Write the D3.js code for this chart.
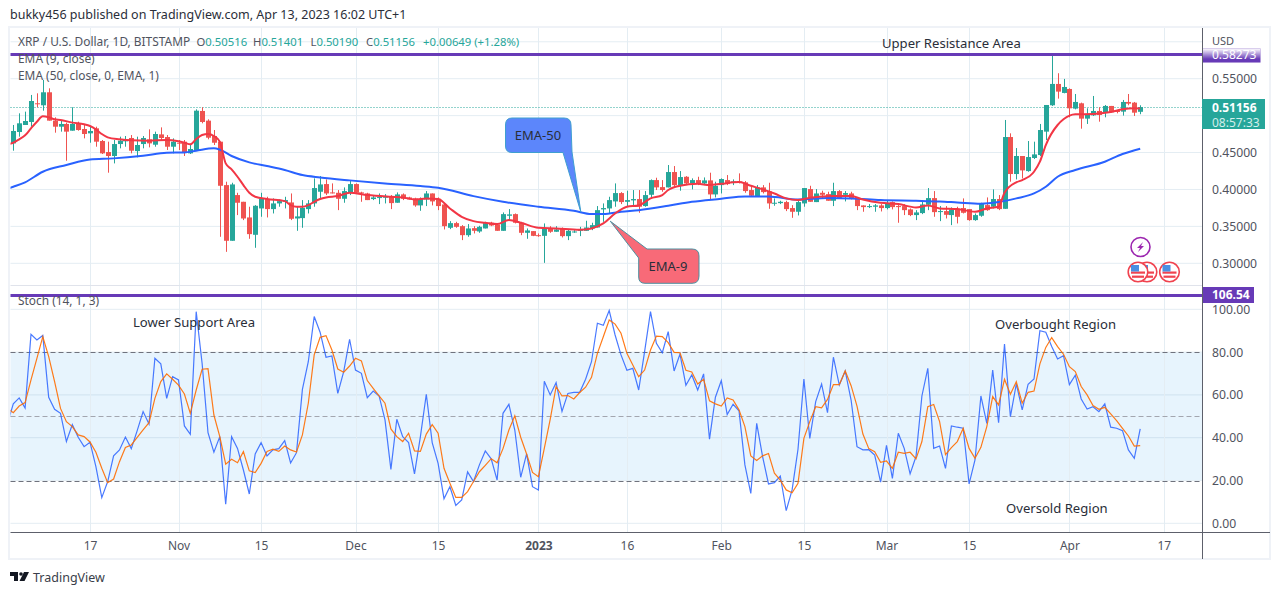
<!DOCTYPE html>
<html>
<head>
<meta charset="utf-8">
<script src="https://cdn.jsdelivr.net/npm/d3@7"></script>
<style>
  html, body { margin: 0; padding: 0; background: #fff; }
  text { font-family: "Noto Sans", sans-serif; }
</style>
</head>
<body>
<svg id="chart" width="1280" height="595"></svg>
<script>
// daily candles, first one is Oct 4 2022
var firstDay = '2022-10-04';
var opens = [
  .4624,.4778,.4873,.4914,.5167,.5140,.5316,.4932,.4850,.4887,
  .4796,.4887,.4819,.4760,.4828,.4656,.4507,.4453,.4615,.4652,
  .4697,.4520,.4615,.4679,.4606,.4746,.4710,.4579,.4633,.4647,
  .4489,.4534,.5063,.4932,.4724,.4647,.4059,.3305,.3924,.3833,
  .3621,.3386,.3743,.3870,.3734,.3811,.3833,.3824,.3607,.3612,
  .3734,.3811,.3969,.4073,.3960,.3955,.3874,.3964,.4073,.3960,
  .3946,.3870,.3888,.3888,.3901,.3820,.3933,.3892,.3879,.3784,
  .3865,.3946,.3874,.3797,.3481,.3544,.3503,.3381,.3476,.3431,
  .3472,.3549,.3526,.3440,.3644,.3666,.3549,.3413,.3436,.3381,
  .3372,.3467,.3427,.3476,.3368,.3422,.3440,.3440,.3472,.3485,
  .3730,.3743,.3838,.3951,.3833,.3852,.3870,.3775,.3928,.4127,
  .4032,.4028,.4236,.4059,.4172,.4082,.4127,.4082,.4123,.3933,
  .4059,.4127,.4091,.4109,.4096,.3992,.3901,.4028,.3974,.3811,
  .3815,.3829,.3748,.3698,.3811,.4005,.3829,.3955,.3937,.3847,
  .3978,.3928,.3946,.3883,.3784,.3761,.3766,.3784,.3748,.3829,
  .3775,.3775,.3730,.3653,.3680,.3793,.3883,.3698,.3707,.3653,
  .3738,.3748,.3734,.3585,.3644,.3788,.3766,.3870,.3738,.4710,
  .4209,.4453,.4249,.4426,.4466,.4783,.5140,.5429,.5307,.5361,
  .5095,.5167,.4959,.5004,.5063,.5049,.5131,.5067,.5054,.5185,
  .5176,.50516
];
var highs = [
  .4873,.5031,.5054,.5280,.5302,.5483,.5370,.4977,.4941,.4905,
  .5113,.4918,.4873,.4850,.4850,.4670,.4647,.4670,.4715,.4724,
  .4737,.4715,.4724,.4814,.4783,.4841,.4737,.4692,.4670,.4670,
  .4615,.5085,.5113,.4950,.4805,.4647,.4105,.4091,.3955,.3833,
  .3766,.3788,.3955,.3901,.3879,.3865,.3901,.3946,.3766,.3856,
  .3856,.4150,.4181,.4136,.4082,.3992,.4028,.4114,.4082,.3969,
  .3955,.3924,.3946,.3937,.3924,.3960,.3946,.3901,.3888,.3892,
  .3978,.3946,.3892,.3811,.3571,.3562,.3517,.3531,.3503,.3508,
  .3562,.3562,.3540,.3689,.3734,.3675,.3562,.3472,.3436,.3404,
  .3540,.3503,.3503,.3485,.3458,.3449,.3494,.3576,.3549,.3775,
  .3811,.3901,.4082,.3964,.3983,.3992,.3992,.3978,.4136,.4159,
  .4127,.4331,.4317,.4249,.4181,.4150,.4172,.4163,.4227,.4105,
  .4150,.4195,.4136,.4218,.4114,.4037,.4059,.4059,.4091,.3879,
  .3847,.3847,.3788,.3856,.4019,.4050,.4005,.3983,.3969,.4091,
  .3992,.3978,.3969,.3883,.3784,.3802,.3802,.3802,.3847,.3838,
  .3788,.3802,.3743,.3720,.3833,.4019,.3978,.3775,.3775,.3757,
  .3766,.3879,.3734,.3675,.3820,.3892,.4001,.3924,.4941,.4760,
  .4561,.4453,.4656,.4647,.4887,.5144,.5845,.5574,.5497,.5370,
  .5293,.5176,.5099,.5266,.5113,.5144,.5131,.5076,.5212,.5293,
  .5185,.51401
];
var lows = [
  .4525,.4715,.4873,.4850,.5113,.5067,.4932,.4769,.4783,.4389,
  .4796,.4796,.4692,.4633,.4579,.4480,.4227,.4353,.4557,.4579,
  .4489,.4435,.4557,.4570,.4579,.4670,.4534,.4489,.4534,.4453,
  .4480,.4534,.4896,.4679,.4602,.3359,.3155,.3305,.3653,.3585,
  .3332,.3210,.3630,.3621,.3675,.3766,.3743,.3585,.3440,.3481,
  .3675,.3766,.3879,.3924,.3946,.3720,.3820,.3924,.3946,.3833,
  .3856,.3856,.3802,.3811,.3734,.3820,.3856,.3865,.3766,.3711,
  .3775,.3784,.3720,.3458,.3463,.3481,.3314,.3359,.3404,.3413,
  .3472,.3503,.3440,.3440,.3576,.3540,.3381,.3332,.3368,.3359,
  .3006,.3413,.3427,.3350,.3314,.3413,.3368,.3440,.3449,.3485,
  .3562,.3675,.3766,.3802,.3775,.3766,.3684,.3766,.3879,.3992,
  .3969,.4028,.4037,.3983,.4059,.4001,.4059,.4059,.3870,.3892,
  .3946,.4059,.4059,.4082,.3955,.3901,.3901,.3946,.3738,.3779,
  .3802,.3707,.3616,.3648,.3766,.3833,.3829,.3879,.3847,.3775,
  .3879,.3838,.3865,.3720,.3698,.3748,.3698,.3702,.3730,.3730,
  .3549,.3653,.3639,.3585,.3666,.3720,.3630,.3571,.3607,.3517,
  .3540,.3675,.3576,.3576,.3630,.3711,.3743,.3720,.3738,.4105,
  .4136,.4150,.4240,.4412,.4453,.4670,.5131,.5230,.5302,.4977,
  .5085,.4823,.4887,.4995,.4918,.4977,.5040,.5031,.5000,.5140,
  .4995,.50190
];
var closes = [
  .4792,.4896,.4927,.5198,.5158,.5316,.4932,.4850,.4887,.4783,
  .4887,.4805,.4751,.4792,.4647,.4489,.4453,.4615,.4661,.4679,
  .4525,.4602,.4697,.4624,.4751,.4697,.4579,.4647,.4624,.4498,
  .4548,.5067,.4914,.4701,.4633,.4050,.3305,.4068,.3820,.3607,
  .3395,.3779,.3879,.3734,.3811,.3842,.3856,.3603,.3635,.3752,
  .3811,.4019,.4068,.3946,.3951,.3874,.3978,.4073,.3955,.3951,
  .3856,.3892,.3897,.3910,.3815,.3933,.3874,.3865,.3784,.3870,
  .3946,.3838,.3775,.3503,.3544,.3494,.3381,.3472,.3440,.3494,
  .3544,.3512,.3440,.3666,.3662,.3549,.3413,.3445,.3372,.3368,
  .3467,.3427,.3458,.3368,.3440,.3431,.3458,.3485,.3517,.3720,
  .3748,.3856,.3951,.3829,.3856,.3870,.3766,.3924,.4127,.4028,
  .3992,.4236,.4059,.4168,.4082,.4127,.4073,.4123,.3933,.4050,
  .4141,.4073,.4109,.4091,.3978,.3915,.4028,.3964,.3811,.3820,
  .3833,.3734,.3698,.3829,.4019,.3833,.3946,.3928,.3847,.3978,
  .3879,.3951,.3874,.3775,.3761,.3775,.3784,.3748,.3820,.3761,
  .3761,.3720,.3653,.3689,.3797,.3883,.3693,.3707,.3657,.3730,
  .3630,.3684,.3585,.3653,.3811,.3720,.3870,.3734,.4710,.4209,
  .4453,.4258,.4439,.4475,.4805,.5144,.5429,.5325,.5388,.5099,
  .5185,.4959,.5018,.5063,.5009,.5131,.5045,.5049,.5185,.5162,
  .5040,.51156
];

var ema9Days = [-1,0,1,2,3,4,5,6,7,8,10,12,13,14,15,16,18,20,23,26,28,29,30,31,32,33,34,35,36,37,38,39,40,41,43,46,47,48,49,50,51,52,53,55,57,60,64,66,68,70,72,74,76,78,80,82,84,86,89,92,96,98,100,102,104,106,108,110,111,113,116,118,120,123,125,127,129,131,133,135,139,142,144,147,150,153,155,157,160,163,165,167,168,170,171,173,174,175,177,178,180,183,186,188,190,191];
var ema9Values = [.4611,.4633,.4679,.4733,.4828,.4918,.4990,.4977,.4950,.4941,.4905,.4882,.4859,.4814,.4751,.4706,.4679,.4665,.4661,.4670,.4652,.4633,.4611,.4683,.4737,.4751,.4724,.4647,.4353,.4272,.4172,.4059,.3955,.3901,.3870,.3842,.3788,.3766,.3766,.3788,.3833,.3870,.3892,.3910,.3955,.3924,.3901,.3892,.3865,.3879,.3870,.3743,.3630,.3571,.3549,.3531,.3585,.3549,.3481,.3472,.3454,.3472,.3540,.3675,.3766,.3784,.3879,.3924,.3992,.4050,.4077,.4059,.4077,.4100,.4050,.4001,.3946,.3879,.3856,.3888,.3910,.3910,.3865,.3820,.3802,.3757,.3784,.3743,.3734,.3698,.3743,.3766,.3955,.4096,.4127,.4240,.4376,.4602,.4873,.4950,.5018,.5022,.5049,.5085,.5099,.5095];
var ema50Days = [-1,0,2,5,9,13,17,22,26,29,31,34,35,37,40,43,46,49,52,57,63,69,72,78,83,89,95,98,100,103,106,111,115,120,124,128,133,138,142,147,153,157,160,164,167,170,173,175,177,180,185,188,191];
var ema50Values = [.4010,.4037,.4096,.4240,.4331,.4407,.4421,.4457,.4498,.4502,.4525,.4557,.4539,.4453,.4367,.4317,.4263,.4195,.4163,.4123,.4082,.4046,.4023,.3910,.3833,.3766,.3711,.3666,.3666,.3698,.3720,.3779,.3833,.3874,.3906,.3906,.3865,.3883,.3879,.3856,.3847,.3838,.3824,.3806,.3829,.3879,.3946,.4037,.4172,.4263,.4376,.4480,.4552];

// stochastic, one value per day, first one is the day before firstDay (falls under the left edge)
var stochK = [
  46.6,55.8,58.6,53.9,88.3,85.7,87.8,58.9,53.3,51.4,38.2,
  46.1,40.2,35.8,37.9,26.5,12.0,19.5,31.5,34.3,40.3,
  34.9,43.3,52.2,46.4,77.1,74.5,58.4,68.5,67.0,45.5,
  41.6,98.9,74.8,42.4,33.2,40.5,8.9,40.5,35.0,24.9,
  13.7,32.4,37.7,31.5,34.3,34.9,38.6,28.2,33.0,62.6,
  75.5,96.6,89.3,77.6,78.2,60.7,70.9,86.0,71.6,70.1,
  58.7,61.8,59.5,48.3,25.2,48.6,40.5,37.7,23.1,40.5,
  60.3,37.7,28.0,11.5,17.1,8.4,10.9,24.0,19.5,27.3,
  33.8,30.1,20.2,51.4,55.6,43.6,21.5,32.4,17.1,15.6,
  66.4,60.0,65.7,52.3,60.7,61.2,61.2,67.3,75.5,93.5,
  92.5,99.4,88.0,78.7,71.5,72.4,62.3,80.2,98.9,84.1,
  79.7,89.6,71.2,79.1,64.5,69.3,62.3,69.8,39.3,58.9,
  66.7,50.8,55.6,52.6,27.3,14.0,46.7,31.2,18.4,19.0,
  22.1,5.9,15.6,34.6,67.4,39.7,56.9,65.1,51.7,77.6,
  64.6,71.2,57.6,35.8,34.3,34.4,31.9,19.2,36.4,21.0,
  42.1,35.0,23.1,31.2,59.5,72.4,35.0,36.1,25.7,45.5,
  44.9,44.4,18.4,29.6,59.5,46.7,71.6,47.0,83.8,49.8,
  65.1,53.0,65.0,67.4,90.0,89.3,82.6,76.8,78.3,64.8,
  69.2,58.1,53.4,54.5,52.2,55.8,44.9,44.4,43.3,34.3,
  30.4,44.1
];
var stochD = [
  53.7,51.7,54.8,56.4,67.0,77.1,87.2,77.9,66.2,53.7,47.5,
  45.2,41.3,40.5,38.0,33.2,25.7,19.0,20.7,28.8,35.4,
  36.6,40.2,43.6,47.0,58.4,66.2,69.8,67.3,64.6,60.4,
  51.4,62.3,72.0,72.3,50.6,40.5,27.6,29.9,28.3,33.5,
  24.5,23.7,28.0,33.6,34.6,33.6,36.1,34.3,33.3,41.3,
  56.1,78.7,86.9,87.7,81.0,72.1,70.6,73.5,77.1,75.9,
  66.7,63.1,59.5,56.1,44.1,40.5,38.2,42.1,33.8,33.6,
  41.7,46.1,42.1,25.7,18.7,12.1,12.1,14.8,19.5,24.1,
  27.1,30.2,28.3,34.9,43.6,50.2,40.2,32.4,23.8,21.8,
  35.0,48.6,63.9,59.5,59.7,58.1,61.1,63.6,68.2,79.4,
  87.2,95.0,93.1,88.8,79.4,74.0,68.5,71.6,81.0,87.5,
  87.2,84.4,79.9,79.7,71.5,70.7,65.1,67.3,57.2,55.8,
  54.8,58.6,57.6,53.0,45.2,31.5,29.4,31.5,32.6,23.4,
  20.2,15.6,14.3,18.7,39.7,47.5,54.5,54.0,57.9,64.8,
  64.8,71.2,64.3,54.8,41.7,34.9,33.5,28.5,29.1,25.7,
  33.2,32.7,33.2,30.1,38.2,54.5,55.5,47.5,32.1,35.4,
  38.2,44.4,35.0,30.4,35.5,45.2,59.2,55.3,67.3,60.3,
  66.2,56.1,61.2,61.8,74.5,82.2,86.8,82.6,79.0,73.2,
  70.9,63.9,60.0,55.0,53.3,54.2,51.1,48.0,44.4,40.8,
  36.1,36.3
];

var priceTicks = [0.30, 0.35, 0.40, 0.45, 0.50, 0.55, 0.60];
var priceLabels = [0.30, 0.35, 0.40, 0.45, 0.55];
var stochTicks = [0, 20, 40, 60, 80, 100];
var stochDashes = [20, 50, 80];
var timeTicks = ['2022-10-17','2022-11-01','2022-11-15','2022-12-01','2022-12-15','2023-01-01','2023-01-16','2023-02-01','2023-02-15','2023-03-01','2023-03-15','2023-04-01','2023-04-17'];
var timeLabels = ['17','Nov','15','Dec','15','2023','16','Feb','15','Mar','15','Apr','17'];

var ohlcNames = ['O', 'H', 'L', 'C'];
var ohlcValues = ['0.50516', '0.51401', '0.50190', '0.51156'];
var changeText = '+0.00649 (+1.28%)';
var lastPrice = 0.51156;
var countdown = '08:57:33';
var resistanceLevel = 0.58273;
var stochLevel = 106.54;

var GREEN = '#26a69a', RED = '#ef5350', PURPLE = '#673ab7', GRID = '#e4edf3', TEXT = '#50535e', DARK = '#2a2e39';
var AXIS_FONT = '"Liberation Sans", sans-serif';
var LEFT = 10.5, RIGHT = 1202, FRAME_RIGHT = 1270, TOP = 28, SPLIT = 285.5, BOTTOM = 532.5;

var parseDay = d3.utcParse('%Y-%m-%d');
var day0 = parseDay(firstDay);
var dayAt = function(i) { return d3.utcDay.offset(day0, i); };

var x = d3.scaleUtc().domain([day0, dayAt(191)]).range([13.3, 1140.2]);
var y = d3.scaleLinear().domain([0.30, 0.55]).range([263.3, 78.7]);
var ys = d3.scaleLinear().domain([0, 100]).range([523.3, 309.3]);

var svg = d3.select('#chart');

// gradient for the price tag sliding under the USD label
var defs = svg.append('defs');
var fade = defs.append('linearGradient').attr('id', 'tagFade').attr('x1', 0).attr('x2', 0).attr('y1', 0).attr('y2', 1);
fade.append('stop').attr('offset', '0%').attr('stop-color', '#fff').attr('stop-opacity', 1);
fade.append('stop').attr('offset', '75%').attr('stop-color', '#fff').attr('stop-opacity', 0);
defs.append('clipPath').attr('id', 'mainClip').append('rect')
  .attr('x', LEFT).attr('y', TOP).attr('width', RIGHT - LEFT).attr('height', SPLIT - TOP);
defs.append('clipPath').attr('id', 'stochClip').append('rect')
  .attr('x', LEFT).attr('y', SPLIT).attr('width', RIGHT - LEFT).attr('height', BOTTOM - SPLIT);

svg.append('text').attr('x', 10).attr('y', 19).attr('font-size', 12.5).attr('fill', DARK)
  .text('bukky456 published on TradingView.com, Apr 13, 2023 16:02 UTC+1');

// frame
svg.append('rect').attr('x', 9).attr('y', 27).attr('width', FRAME_RIGHT - 9).attr('height', 532)
  .attr('fill', 'none').attr('stroke', '#eff2f7').attr('stroke-width', 2);

// band and grid
svg.append('rect').attr('x', LEFT).attr('width', RIGHT - LEFT)
  .attr('y', ys(80)).attr('height', ys(20) - ys(80)).attr('fill', '#e7f4fd');

var grid = svg.append('g').attr('stroke', GRID).attr('stroke-width', 1);
priceTicks.forEach(function(p) {
  grid.append('line').attr('x1', LEFT).attr('x2', RIGHT).attr('y1', y(p)).attr('y2', y(p));
});
stochTicks.forEach(function(s) {
  grid.append('line').attr('x1', LEFT).attr('x2', RIGHT).attr('y1', ys(s)).attr('y2', ys(s))
    .attr('stroke', s === 40 || s === 60 ? '#cfe2ef' : GRID);
});
timeTicks.forEach(function(t) {
  var px = Math.round(x(parseDay(t))) + 0.5;
  grid.append('line').attr('x1', px).attr('x2', px).attr('y1', TOP).attr('y2', BOTTOM);
});
grid.append('line').attr('x1', LEFT).attr('x2', RIGHT).attr('y1', SPLIT).attr('y2', SPLIT).attr('stroke', '#e0e3eb');

stochDashes.forEach(function(s) {
  var ly = Math.round(ys(s)) + 0.5;
  svg.append('line').attr('x1', LEFT).attr('x2', RIGHT).attr('y1', ly).attr('y2', ly)
    .attr('stroke', s === 50 ? '#a3a6af' : '#6f727d').attr('stroke-width', 1).attr('stroke-dasharray', '5,3');
});

// last price dotted line
var lastY = Math.round(y(lastPrice)) + 0.5;
svg.append('line').attr('x1', LEFT).attr('x2', RIGHT).attr('y1', lastY).attr('y2', lastY)
  .attr('stroke', GREEN).attr('stroke-width', 1).attr('stroke-dasharray', '1,2');

// candles
var candles = svg.append('g').attr('clip-path', 'url(#mainClip)').selectAll('g')
  .data(opens).join('g')
  .attr('fill', function(d, i) { return closes[i] >= d ? GREEN : RED; })
  .attr('stroke', function(d, i) { return closes[i] >= d ? GREEN : RED; });
candles.append('line')
  .attr('x1', function(d, i) { return Math.round(x(dayAt(i))) + 0.5; })
  .attr('x2', function(d, i) { return Math.round(x(dayAt(i))) + 0.5; })
  .attr('y1', function(d, i) { return y(highs[i]); })
  .attr('y2', function(d, i) { return y(lows[i]); });
candles.append('rect')
  .attr('stroke', 'none')
  .attr('x', function(d, i) { return Math.round(x(dayAt(i))) - 2; })
  .attr('width', 5)
  .attr('y', function(d, i) { return y(Math.max(d, closes[i])); })
  .attr('height', function(d, i) { return Math.max(1, Math.abs(y(d) - y(closes[i]))); });

// EMA lines
var emaLine = d3.line()
  .x(function(d) { return x(dayAt(d[0])); })
  .y(function(d) { return y(d[1]); })
  .curve(d3.curveMonotoneX);
var mainLines = svg.append('g').attr('clip-path', 'url(#mainClip)').attr('fill', 'none');
mainLines.append('path').attr('d', emaLine(d3.zip(ema50Days, ema50Values)))
  .attr('stroke', '#2962ff').attr('stroke-width', 2);
mainLines.append('path').attr('d', emaLine(d3.zip(ema9Days, ema9Values)))
  .attr('stroke', '#f23645').attr('stroke-width', 2);

// stochastic lines
var stochLine = d3.line()
  .x(function(d, i) { return x(dayAt(i - 1)); })
  .y(function(d) { return ys(d); });
var stochLines = svg.append('g').attr('clip-path', 'url(#stochClip)').attr('fill', 'none');
stochLines.append('path').attr('d', stochLine(stochK)).attr('stroke', '#2962ff').attr('stroke-width', 1.2).attr('stroke-opacity', 0.85);
stochLines.append('path').attr('d', stochLine(stochD)).attr('stroke', '#ff6d00').attr('stroke-width', 1.2).attr('stroke-opacity', 0.9);

// the two drawn levels
svg.append('line').attr('x1', LEFT).attr('x2', RIGHT).attr('y1', y(resistanceLevel)).attr('y2', y(resistanceLevel))
  .attr('stroke', PURPLE).attr('stroke-width', 3);
svg.append('line').attr('x1', LEFT).attr('x2', RIGHT).attr('y1', 295.5).attr('y2', 295.5)
  .attr('stroke', PURPLE).attr('stroke-width', 3);

// legend
var LEGEND = 11.9;
svg.append('text').attr('x', 18).attr('y', 46).attr('font-size', LEGEND).attr('fill', TEXT).text('XRP / U.S. Dollar, 1D, BITSTAMP');
var legendX = [196.5, 253, 310.5, 366];
var ohlc = svg.append('text').attr('y', 46).attr('font-size', 11.3).attr('fill', TEXT);
ohlcNames.forEach(function(n, i) {
  ohlc.append('tspan').attr('x', legendX[i]).text(n);
  ohlc.append('tspan').attr('fill', GREEN).text(ohlcValues[i]);
});
ohlc.append('tspan').attr('x', 423).attr('fill', GREEN).text(changeText);
svg.append('text').attr('x', 18).attr('y', 63).attr('font-size', LEGEND).attr('fill', TEXT).text('EMA (9, close)');
svg.append('text').attr('x', 18).attr('y', 80).attr('font-size', LEGEND).attr('fill', TEXT).text('EMA (50, close, 0, EMA, 1)');
svg.append('text').attr('x', 18).attr('y', 305).attr('font-size', LEGEND).attr('fill', TEXT).text('Stoch (14, 1, 3)');

// annotations
[['Upper Resistance Area', 882, 47.5], ['Lower Support Area', 133, 326.5], ['Overbought Region', 995, 328.5], ['Oversold Region', 1006, 512.5]].forEach(function(a) {
  svg.append('text').attr('x', a[1]).attr('y', a[2]).attr('font-size', 13.1).attr('fill', DARK).text(a[0]);
});

// callouts
var callout = d3.path();
callout.moveTo(512, 118);
callout.lineTo(564, 118);
callout.quadraticCurveTo(571, 118, 571, 125);
callout.lineTo(572, 152);
callout.lineTo(x(dayAt(95)) + 7, y(0.3695));
callout.lineTo(563, 152.5);
callout.lineTo(512, 152.5);
callout.quadraticCurveTo(505.5, 152.5, 505.5, 146);
callout.lineTo(505.5, 125);
callout.quadraticCurveTo(505.5, 118, 512, 118);
svg.append('path').attr('d', callout.toString()).attr('fill', '#5c86fb').attr('stroke', '#3f9fd0').attr('stroke-width', 1);
svg.append('text').attr('x', 538).attr('y', 139.5).attr('text-anchor', 'middle').attr('font-size', 13).attr('fill', DARK).text('EMA-50');

var callout9 = d3.path();
callout9.moveTo(647, 249);
callout9.lineTo(692, 249);
callout9.quadraticCurveTo(699, 249, 699, 256);
callout9.lineTo(699, 276);
callout9.quadraticCurveTo(699, 283.3, 692, 283.3);
callout9.lineTo(645, 283.3);
callout9.quadraticCurveTo(638.7, 283.3, 638.7, 277);
callout9.lineTo(638.7, 258);
callout9.lineTo(x(dayAt(100)) + 7, y(0.3570));
callout9.closePath();
svg.append('path').attr('d', callout9.toString()).attr('fill', '#f86a78').attr('stroke', '#4d8f9f').attr('stroke-width', 1);
svg.append('text').attr('x', 668).attr('y', 270.5).attr('text-anchor', 'middle').attr('font-size', 13).attr('fill', DARK).text('EMA-9');

// event icons
var bolt = svg.append('g').attr('transform', 'translate(1140.5,247)');
bolt.append('circle').attr('r', 9.5).attr('fill', '#fff').attr('stroke', '#9c27b0').attr('stroke-width', 1.6);
bolt.append('path').attr('d', 'M2.5,-5 L-3.5,1 L-0.5,1 L-2.5,5 L3.5,-1 L0.5,-1 Z').attr('fill', '#9c27b0');
[1147, 1138, 1169.5].forEach(function(cx) {
  var f = svg.append('g').attr('transform', 'translate(' + cx + ',272)');
  f.append('circle').attr('r', 9.8).attr('fill', '#fff').attr('stroke', '#f0434f').attr('stroke-width', 1.6);
  f.append('rect').attr('x', -7).attr('y', -0.5).attr('width', 14).attr('height', 2.2).attr('fill', '#f0434f');
  f.append('rect').attr('x', -6).attr('y', 3.6).attr('width', 12).attr('height', 2.2).attr('fill', '#f0434f');
  f.append('rect').attr('x', -7).attr('y', -7).attr('width', 8).attr('height', 6.5).attr('fill', '#4a90e2');
});

// price axis
svg.append('line').attr('x1', RIGHT + 0.5).attr('x2', RIGHT + 0.5).attr('y1', TOP).attr('y2', 559).attr('stroke', '#5d606b');
svg.append('line').attr('x1', LEFT).attr('x2', FRAME_RIGHT).attr('y1', BOTTOM).attr('y2', BOTTOM).attr('stroke', '#5d606b');

var axisPrice = d3.axisRight(y).tickValues(priceLabels).tickFormat(d3.format('.5f')).tickSize(0).tickPadding(10);
var axisStoch = d3.axisRight(ys).tickValues(stochTicks).tickFormat(d3.format('.2f')).tickSize(0).tickPadding(10);
var axisTime = d3.axisBottom(x).tickValues(timeTicks.map(parseDay))
  .tickFormat(function(d, i) { return timeLabels[i]; }).tickSize(0).tickPadding(8.5);

[svg.append('g').attr('transform', 'translate(' + RIGHT + ',0)').call(axisPrice),
 svg.append('g').attr('transform', 'translate(' + RIGHT + ',0)').call(axisStoch)].forEach(function(g) {
  g.select('.domain').remove();
  g.selectAll('text').attr('font-family', AXIS_FONT).attr('font-size', 12.2).attr('fill', TEXT);
});
var timeG = svg.append('g').attr('transform', 'translate(0,' + BOTTOM + ')').call(axisTime);
timeG.select('.domain').remove();
timeG.selectAll('text').attr('font-family', '"Noto Sans", sans-serif').attr('font-size', 12).attr('fill', TEXT);
timeG.selectAll('g.tick text').filter(function() { return d3.select(this).text() === '2023'; }).attr('font-weight', 'bold');

svg.append('text').attr('x', 1212).attr('y', 45).attr('font-size', 11).attr('fill', TEXT).text('USD');

// price tags
svg.append('rect').attr('x', RIGHT + 1).attr('y', y(resistanceLevel) - 6).attr('width', 57.5).attr('height', 14).attr('fill', PURPLE);
svg.append('text').attr('x', 1212).attr('y', y(resistanceLevel) + 4.5).attr('font-family', AXIS_FONT).attr('font-size', 12).attr('fill', '#fff').text(d3.format('.5f')(resistanceLevel));
svg.append('rect').attr('x', RIGHT + 1).attr('y', y(resistanceLevel) - 6).attr('width', 57.5).attr('height', 14).attr('fill', 'url(#tagFade)');

svg.append('rect').attr('x', RIGHT + 1).attr('y', 287).attr('width', 51).attr('height', 16).attr('fill', PURPLE);
svg.append('text').attr('x', 1212).attr('y', 299).attr('font-family', AXIS_FONT).attr('font-size', 12).attr('font-weight', 'bold').attr('fill', '#fff').text(d3.format('.2f')(stochLevel));

svg.append('rect').attr('x', RIGHT).attr('y', 99).attr('width', 63).attr('height', 30).attr('fill', GREEN);
svg.append('text').attr('x', 1212).attr('y', 111.5).attr('font-family', AXIS_FONT).attr('font-size', 12).attr('font-weight', 'bold').attr('fill', '#fff').text(d3.format('.5f')(lastPrice));
svg.append('text').attr('x', 1212).attr('y', 126.5).attr('font-family', AXIS_FONT).attr('font-size', 12).attr('fill', '#d4eeeb').text(countdown);

// footer logo
svg.append('path').attr('d', 'M10,572 H18 V581 H14 V576 H10 Z M24,572 H29 L24.5,581 H19.5 Z').attr('fill', '#131722');
svg.append('circle').attr('cx', 21).attr('cy', 574).attr('r', 1.8).attr('fill', '#131722');
svg.append('text').attr('x', 33).attr('y', 582).attr('font-size', 12.5).attr('fill', '#3a3e49').text('TradingView');
</script>
</body>
</html>
